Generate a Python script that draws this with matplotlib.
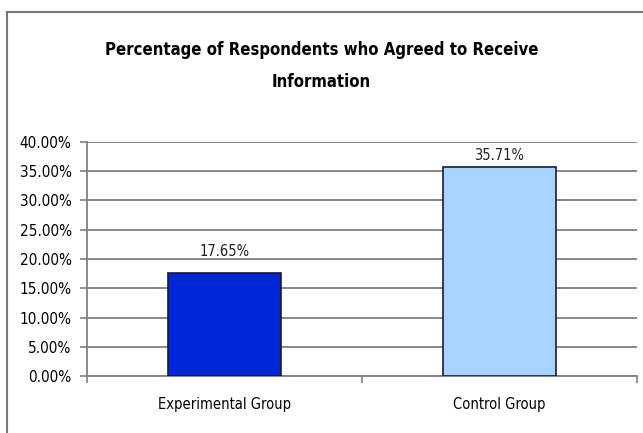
import matplotlib.pyplot as plt
from matplotlib.patches import Rectangle
from matplotlib.ticker import FuncFormatter, FixedLocator

plt.rcParams['font.family'] = ['DejaVu Sans']
plt.rcParams['font.stretch'] = 'condensed'

# data
groups = ['Experimental Group', 'Control Group']
values = [0.1765, 0.3571]
colors = ['#0026d9', '#a6d4ff']

fig = plt.figure(figsize=(6.43, 4.33), dpi=100)
ax = fig.add_axes([87 / 643, 1 - 376 / 433, 550 / 643, 234 / 433])

# outer chart border
fig.patches.append(Rectangle((7 / 643, -0.1), 1.2, 1 - 12 / 433 + 0.1,
                             transform=fig.transFigure, fill=False,
                             edgecolor='#777777', linewidth=1.5))

x = list(range(len(groups)))
bars = ax.bar(x, values, width=0.41, color=colors, edgecolor='#1a1a33',
              linewidth=1.2, zorder=3)

# label offsets above the bar tops (points)
label_pad = [10, 3]
for b, v, pad in zip(bars, values, label_pad):
    ax.annotate(f'{v * 100:.2f}%', (b.get_x() + b.get_width() / 2, v),
                xytext=(0, pad), textcoords='offset points',
                ha='center', va='bottom', fontsize=10.5, color='#222222')

ax.set_xlim(-0.5, 1.5)
ax.set_ylim(0, 0.40)
ax.set_yticks([i * 0.05 for i in range(9)])
ax.yaxis.set_major_formatter(FuncFormatter(lambda v, p: f'{v * 100:.2f}%'))
ax.grid(axis='y', color='#808080', linewidth=1.3, zorder=0)

ax.set_xticks(x)
ax.set_xticklabels(groups, fontsize=10.5)
ax.tick_params(axis='x', length=0, pad=15)
ax.xaxis.set_minor_locator(FixedLocator([-0.5, 0.5, 1.5]))
ax.tick_params(axis='x', which='minor', length=5, color='#808080', width=1.2)
ax.tick_params(axis='y', labelsize=11, length=5, color='#808080', width=1.2, pad=6)

for s in ['top', 'right']:
    ax.spines[s].set_visible(False)
for s in ['left', 'bottom']:
    ax.spines[s].set_color('#808080')
    ax.spines[s].set_linewidth(1.3)

fig.text(0.5, 1 - 66 / 433, 'Percentage of Respondents who Agreed to Receive\nInformation',
         ha='center', va='center', fontsize=12, fontweight='bold', linespacing=1.95)

fig.savefig('out.png', dpi=100)
